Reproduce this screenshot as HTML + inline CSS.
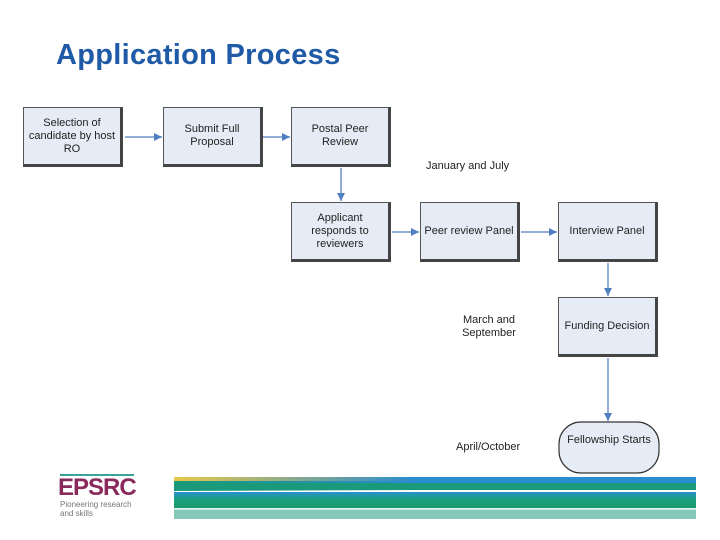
<!DOCTYPE html>
<html><head><style>
body{margin:0;width:720px;height:540px;background:#fff;position:relative;overflow:hidden;font-family:"Liberation Sans",Arial,sans-serif}
.t{position:absolute;left:56px;top:39px;font-size:29px;font-weight:bold;color:#1f5aa6;letter-spacing:0.3px}
.b{position:absolute;box-sizing:border-box;width:100px;height:60px;background:#e6ecf5;border:1px solid #555;border-right:3px solid #444;border-bottom:3px solid #444;display:flex;align-items:center;justify-content:center;text-align:center;font-size:11px;line-height:13px;color:#222;white-space:nowrap}
.l{position:absolute;font-size:11px;color:#222;text-align:center;line-height:13px}
</style></head><body>
<div class="t">Application Process</div>
<svg width="720" height="540" style="position:absolute;left:0;top:0">
<defs><marker id="a" markerWidth="8" markerHeight="8" refX="8" refY="4" orient="auto" markerUnits="userSpaceOnUse"><path d="M0,0 L8,4 L0,8z" fill="#4f7fc0"/></marker></defs>
<g stroke="#6f93c8" stroke-width="1.5" fill="none" marker-end="url(#a)">
<line x1="125" y1="137" x2="162" y2="137"/>
<line x1="263" y1="137" x2="290" y2="137"/>
<line x1="341" y1="168" x2="341" y2="201"/>
<line x1="392" y1="232" x2="419" y2="232"/>
<line x1="521" y1="232" x2="557" y2="232"/>
<line x1="608" y1="263" x2="608" y2="296"/>
<line x1="608" y1="358" x2="608" y2="421"/>
</g>
<rect x="559" y="422" width="100" height="51" rx="22" fill="#e6ecf5" stroke="#333" stroke-width="1.2"/>
</svg>
<div class="b" style="left:23px;top:107px">Selection of<br>candidate by host<br>RO</div>
<div class="b" style="left:163px;top:107px">Submit Full<br>Proposal</div>
<div class="b" style="left:291px;top:107px">Postal Peer<br>Review</div>
<div class="b" style="left:291px;top:202px">Applicant<br>responds to<br>reviewers</div>
<div class="b" style="left:420px;top:202px">Peer review Panel</div>
<div class="b" style="left:558px;top:202px">Interview Panel</div>
<div class="b" style="left:558px;top:297px">Funding Decision</div>
<div class="l" style="left:559px;top:434px;width:100px">Fellowship Starts</div>
<div class="l" style="left:426px;top:160px">January and July</div>
<div class="l" style="left:458px;top:314px;width:62px">March and September</div>
<div class="l" style="left:456px;top:441px">April/October</div>
<div style="position:absolute;left:60px;top:474px;width:74px;height:2px;background:#3aa39a"></div>
<div style="position:absolute;left:58px;top:474px;font-size:24px;font-weight:bold;color:#8a2a5c;letter-spacing:-1px">EPSRC</div>
<div style="position:absolute;left:60px;top:500px;font-size:8px;color:#777;line-height:9px">Pioneering research<br>and skills</div>
<div style="position:absolute;left:174px;top:475px;width:522px;height:44px;background:linear-gradient(#fff 0,#fff 2px,#2a8cd0 2px,#2a8cd0 8px,#1a9a7a 8px,#1a9a7a 15px,#fff 15px,#fff 17px,#2a90d0 17px,#1aa080 24px,#1a9a6a 33px,#bfe6f0 33px,#fff 34px,#86c8b8 35px,#86c8b8 44px)"></div>
<div style="position:absolute;left:174px;top:477px;width:240px;height:4px;background:linear-gradient(90deg,#e8c84a,rgba(232,200,74,0))"></div>
<div style="position:absolute;left:174px;top:481px;width:240px;height:10px;background:linear-gradient(90deg,#1a9a7a,rgba(26,154,122,0))"></div>
</body></html>
